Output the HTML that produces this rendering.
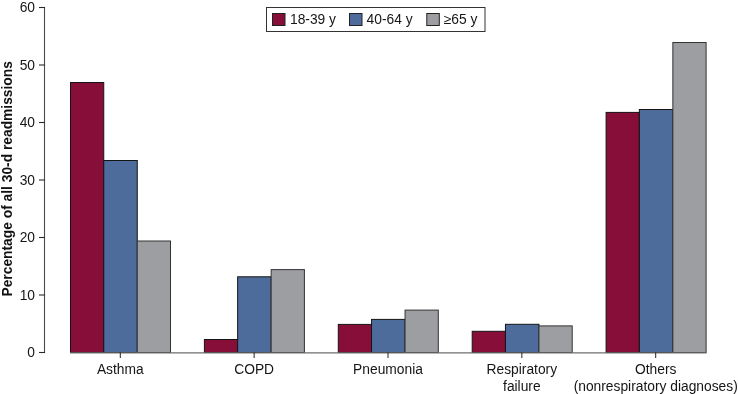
<!DOCTYPE html>
<html><head><meta charset="utf-8"><style>
html,body{margin:0;padding:0;background:#fff;}
svg{display:block;will-change:transform;}
.t{font-family:"Liberation Sans",sans-serif;font-size:13.8px;fill:#151515;}
.b{font-family:"Liberation Sans",sans-serif;font-size:13.8px;font-weight:bold;fill:#111;}
</style></head><body>
<svg width="738" height="394" viewBox="0 0 738 394">
<rect x="70.50" y="82.50" width="33.25" height="270.00" fill="#880e3a" stroke="#141414" stroke-width="1"/>
<rect x="103.75" y="160.50" width="33.50" height="192.00" fill="#4e6c9b" stroke="#141414" stroke-width="1"/>
<rect x="137.25" y="241.00" width="33.25" height="111.50" fill="#9d9ea2" stroke="#333" stroke-width="1"/>
<rect x="204.40" y="339.50" width="33.25" height="13.00" fill="#880e3a" stroke="#141414" stroke-width="1"/>
<rect x="237.65" y="276.80" width="33.50" height="75.70" fill="#4e6c9b" stroke="#141414" stroke-width="1"/>
<rect x="271.15" y="269.60" width="33.25" height="82.90" fill="#9d9ea2" stroke="#333" stroke-width="1"/>
<rect x="338.30" y="324.40" width="33.25" height="28.10" fill="#880e3a" stroke="#141414" stroke-width="1"/>
<rect x="371.55" y="319.40" width="33.50" height="33.10" fill="#4e6c9b" stroke="#141414" stroke-width="1"/>
<rect x="405.05" y="310.10" width="33.25" height="42.40" fill="#9d9ea2" stroke="#333" stroke-width="1"/>
<rect x="472.20" y="331.30" width="33.25" height="21.20" fill="#880e3a" stroke="#141414" stroke-width="1"/>
<rect x="505.45" y="324.30" width="33.50" height="28.20" fill="#4e6c9b" stroke="#141414" stroke-width="1"/>
<rect x="538.95" y="325.90" width="33.25" height="26.60" fill="#9d9ea2" stroke="#333" stroke-width="1"/>
<rect x="606.10" y="112.40" width="33.25" height="240.10" fill="#880e3a" stroke="#141414" stroke-width="1"/>
<rect x="639.35" y="109.50" width="33.50" height="243.00" fill="#4e6c9b" stroke="#141414" stroke-width="1"/>
<rect x="672.85" y="42.50" width="33.25" height="310.00" fill="#9d9ea2" stroke="#333" stroke-width="1"/>
<line x1="70" y1="352.9" x2="706.5" y2="352.9" stroke="#6e6e6e" stroke-width="1.2"/>
<line x1="44.5" y1="7" x2="44.5" y2="353" stroke="#4a4a4a" stroke-width="1.1"/>
<line x1="39" y1="7.5" x2="45" y2="7.5" stroke="#2a2a2a" stroke-width="1.1"/>
<text x="35" y="12.1" text-anchor="end" class="t">60</text>
<line x1="39" y1="65.0" x2="45" y2="65.0" stroke="#2a2a2a" stroke-width="1.1"/>
<text x="35" y="69.6" text-anchor="end" class="t">50</text>
<line x1="39" y1="122.5" x2="45" y2="122.5" stroke="#2a2a2a" stroke-width="1.1"/>
<text x="35" y="127.1" text-anchor="end" class="t">40</text>
<line x1="39" y1="180.0" x2="45" y2="180.0" stroke="#2a2a2a" stroke-width="1.1"/>
<text x="35" y="184.6" text-anchor="end" class="t">30</text>
<line x1="39" y1="237.5" x2="45" y2="237.5" stroke="#2a2a2a" stroke-width="1.1"/>
<text x="35" y="242.1" text-anchor="end" class="t">20</text>
<line x1="39" y1="295.0" x2="45" y2="295.0" stroke="#2a2a2a" stroke-width="1.1"/>
<text x="35" y="299.6" text-anchor="end" class="t">10</text>
<line x1="39" y1="352.5" x2="45" y2="352.5" stroke="#2a2a2a" stroke-width="1.1"/>
<text x="35" y="357.1" text-anchor="end" class="t">0</text>
<line x1="120.30" y1="352.5" x2="120.30" y2="358" stroke="#222" stroke-width="1"/>
<text x="120.30" y="374.3" text-anchor="middle" class="t">Asthma</text>
<line x1="254.15" y1="352.5" x2="254.15" y2="358" stroke="#222" stroke-width="1"/>
<text x="254.15" y="374.3" text-anchor="middle" class="t">COPD</text>
<line x1="388.00" y1="352.5" x2="388.00" y2="358" stroke="#222" stroke-width="1"/>
<text x="388.00" y="374.3" text-anchor="middle" class="t">Pneumonia</text>
<line x1="521.85" y1="352.5" x2="521.85" y2="358" stroke="#222" stroke-width="1"/>
<text x="521.85" y="374.3" text-anchor="middle" class="t">Respiratory</text>
<text x="521.85" y="391" text-anchor="middle" class="t">failure</text>
<line x1="655.70" y1="352.5" x2="655.70" y2="358" stroke="#222" stroke-width="1"/>
<text x="655.70" y="374.3" text-anchor="middle" class="t">Others</text>
<text x="655.70" y="391" text-anchor="middle" class="t">(nonrespiratory diagnoses)</text>
<text transform="translate(11.6,178.8) rotate(-90)" text-anchor="middle" class="b">Percentage of all 30-d readmissions</text>
<rect x="266.5" y="7.5" width="218.5" height="24" fill="#fff" stroke="#333" stroke-width="1"/>
<rect x="272.5" y="13.5" width="12.5" height="12" fill="#880e3a" stroke="#222" stroke-width="1"/>
<text x="290" y="23.8" class="t">18-39 y</text>
<rect x="349.5" y="13.5" width="12.5" height="12" fill="#4e6c9b" stroke="#222" stroke-width="1"/>
<text x="366.6" y="23.8" class="t">40-64 y</text>
<rect x="426.8" y="13.5" width="12.5" height="12" fill="#9d9ea2" stroke="#222" stroke-width="1"/>
<text x="443.8" y="23.8" class="t">≥65 y</text>
</svg>
</body></html>
